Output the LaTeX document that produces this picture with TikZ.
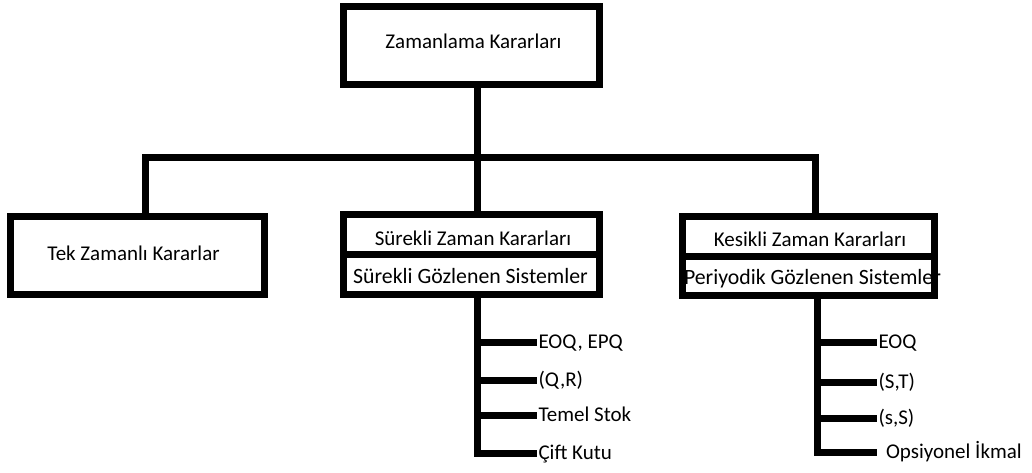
\documentclass[tikz,border=0pt]{standalone}
\usepackage{fontspec}
\setmainfont{Carlito}
\tikzset{
  yazi/.style={inner sep=0pt, outer sep=0pt, text height=13.4pt, text depth=0pt, font=\fontsize{21}{25}\selectfont},
  genis/.style={yazi, font=\fontsize{21.8}{25}\selectfont},
  kutu/.style={draw, line width=7pt, inner sep=0pt, outer sep=0pt},
  dal/.style={line width=7pt, line join=miter},
  yaprak/.style={yazi, anchor=west, inner sep=1.5pt}
}

\begin{document}
\begin{tikzpicture}[x=1pt,y=-1pt]
\useasboundingbox (0,0) rectangle (1032,472);
% kutu yazilari
\node[yazi] (t0) at (473.5,41.5) {Zamanlama Kararları};
\node[yazi] (t1) at (133.5,254) {Tek Zamanlı Kararlar};
\node[yazi] (t2a) at (473,238.5) {Sürekli Zaman Kararları};
\node[genis] (t2b) at (470.5,277) {Sürekli Gözlenen Sistemler};
\node[yazi] (t3a) at (810,240) {Kesikli Zaman Kararları};
\node[genis, anchor=west] (t3b) at (684,277.5) {Periyodik Gözlenen Sistemler};
% kutular
\node[kutu, minimum width=256pt, minimum height=78pt] (ana) at (471.5,45.5) {};
\node[kutu, minimum width=254pt, minimum height=78pt] (tek) at (137.5,255.5) {};
\node[kutu, minimum width=256pt, minimum height=80pt] (szk) at (471.5,254.5) {};
\node[kutu, minimum width=252pt, minimum height=79pt] (kzk) at (808.5,256) {};
\draw[dal] (szk.west) -- (szk.east);
\draw[dal] (kzk.west) -- (kzk.east);
% ust baglantilar
\coordinate (catal) at (477,157.5);
\coordinate (solk) at (145,157.5);
\coordinate (sagk) at (815,157.5);
\draw[dal] (solk |- tek.north) -- (solk) -- (sagk) -- (sagk |- kzk.north);
\draw[dal] (catal |- ana.south) -- (catal |- szk.north);
% alt dallar
\node[yaprak] (s1) at (537,342) {EOQ, EPQ};
\node[yaprak] (s2) at (537,380) {(Q,R)};
\node[yaprak] (s3) at (537,415) {Temel Stok};
\node[yaprak] (s4) at (537,453) {Çift Kutu};
\node[yaprak] (p1) at (877,342) {EOQ};
\node[yaprak] (p2) at (877,382) {(S,T)};
\node[yaprak] (p3) at (877,418) {(s,S)};
\node[yaprak, inner xsep=9pt] (p4) at (877,452) {Opsiyonel İkmal};
\coordinate (g1) at (477,0);
\coordinate (g2) at (817,0);
\draw[dal] (g1 |- szk.south) |- (s4.west);
\draw[dal] (g2 |- kzk.south) |- (p4.west);
\foreach \n in {s1,s2,s3}
  \draw[dal] (g1 |- \n.west) -- (\n.west);
\foreach \n in {p1,p2,p3}
  \draw[dal] (g2 |- \n.west) -- (\n.west);
\end{tikzpicture}
\end{document}
